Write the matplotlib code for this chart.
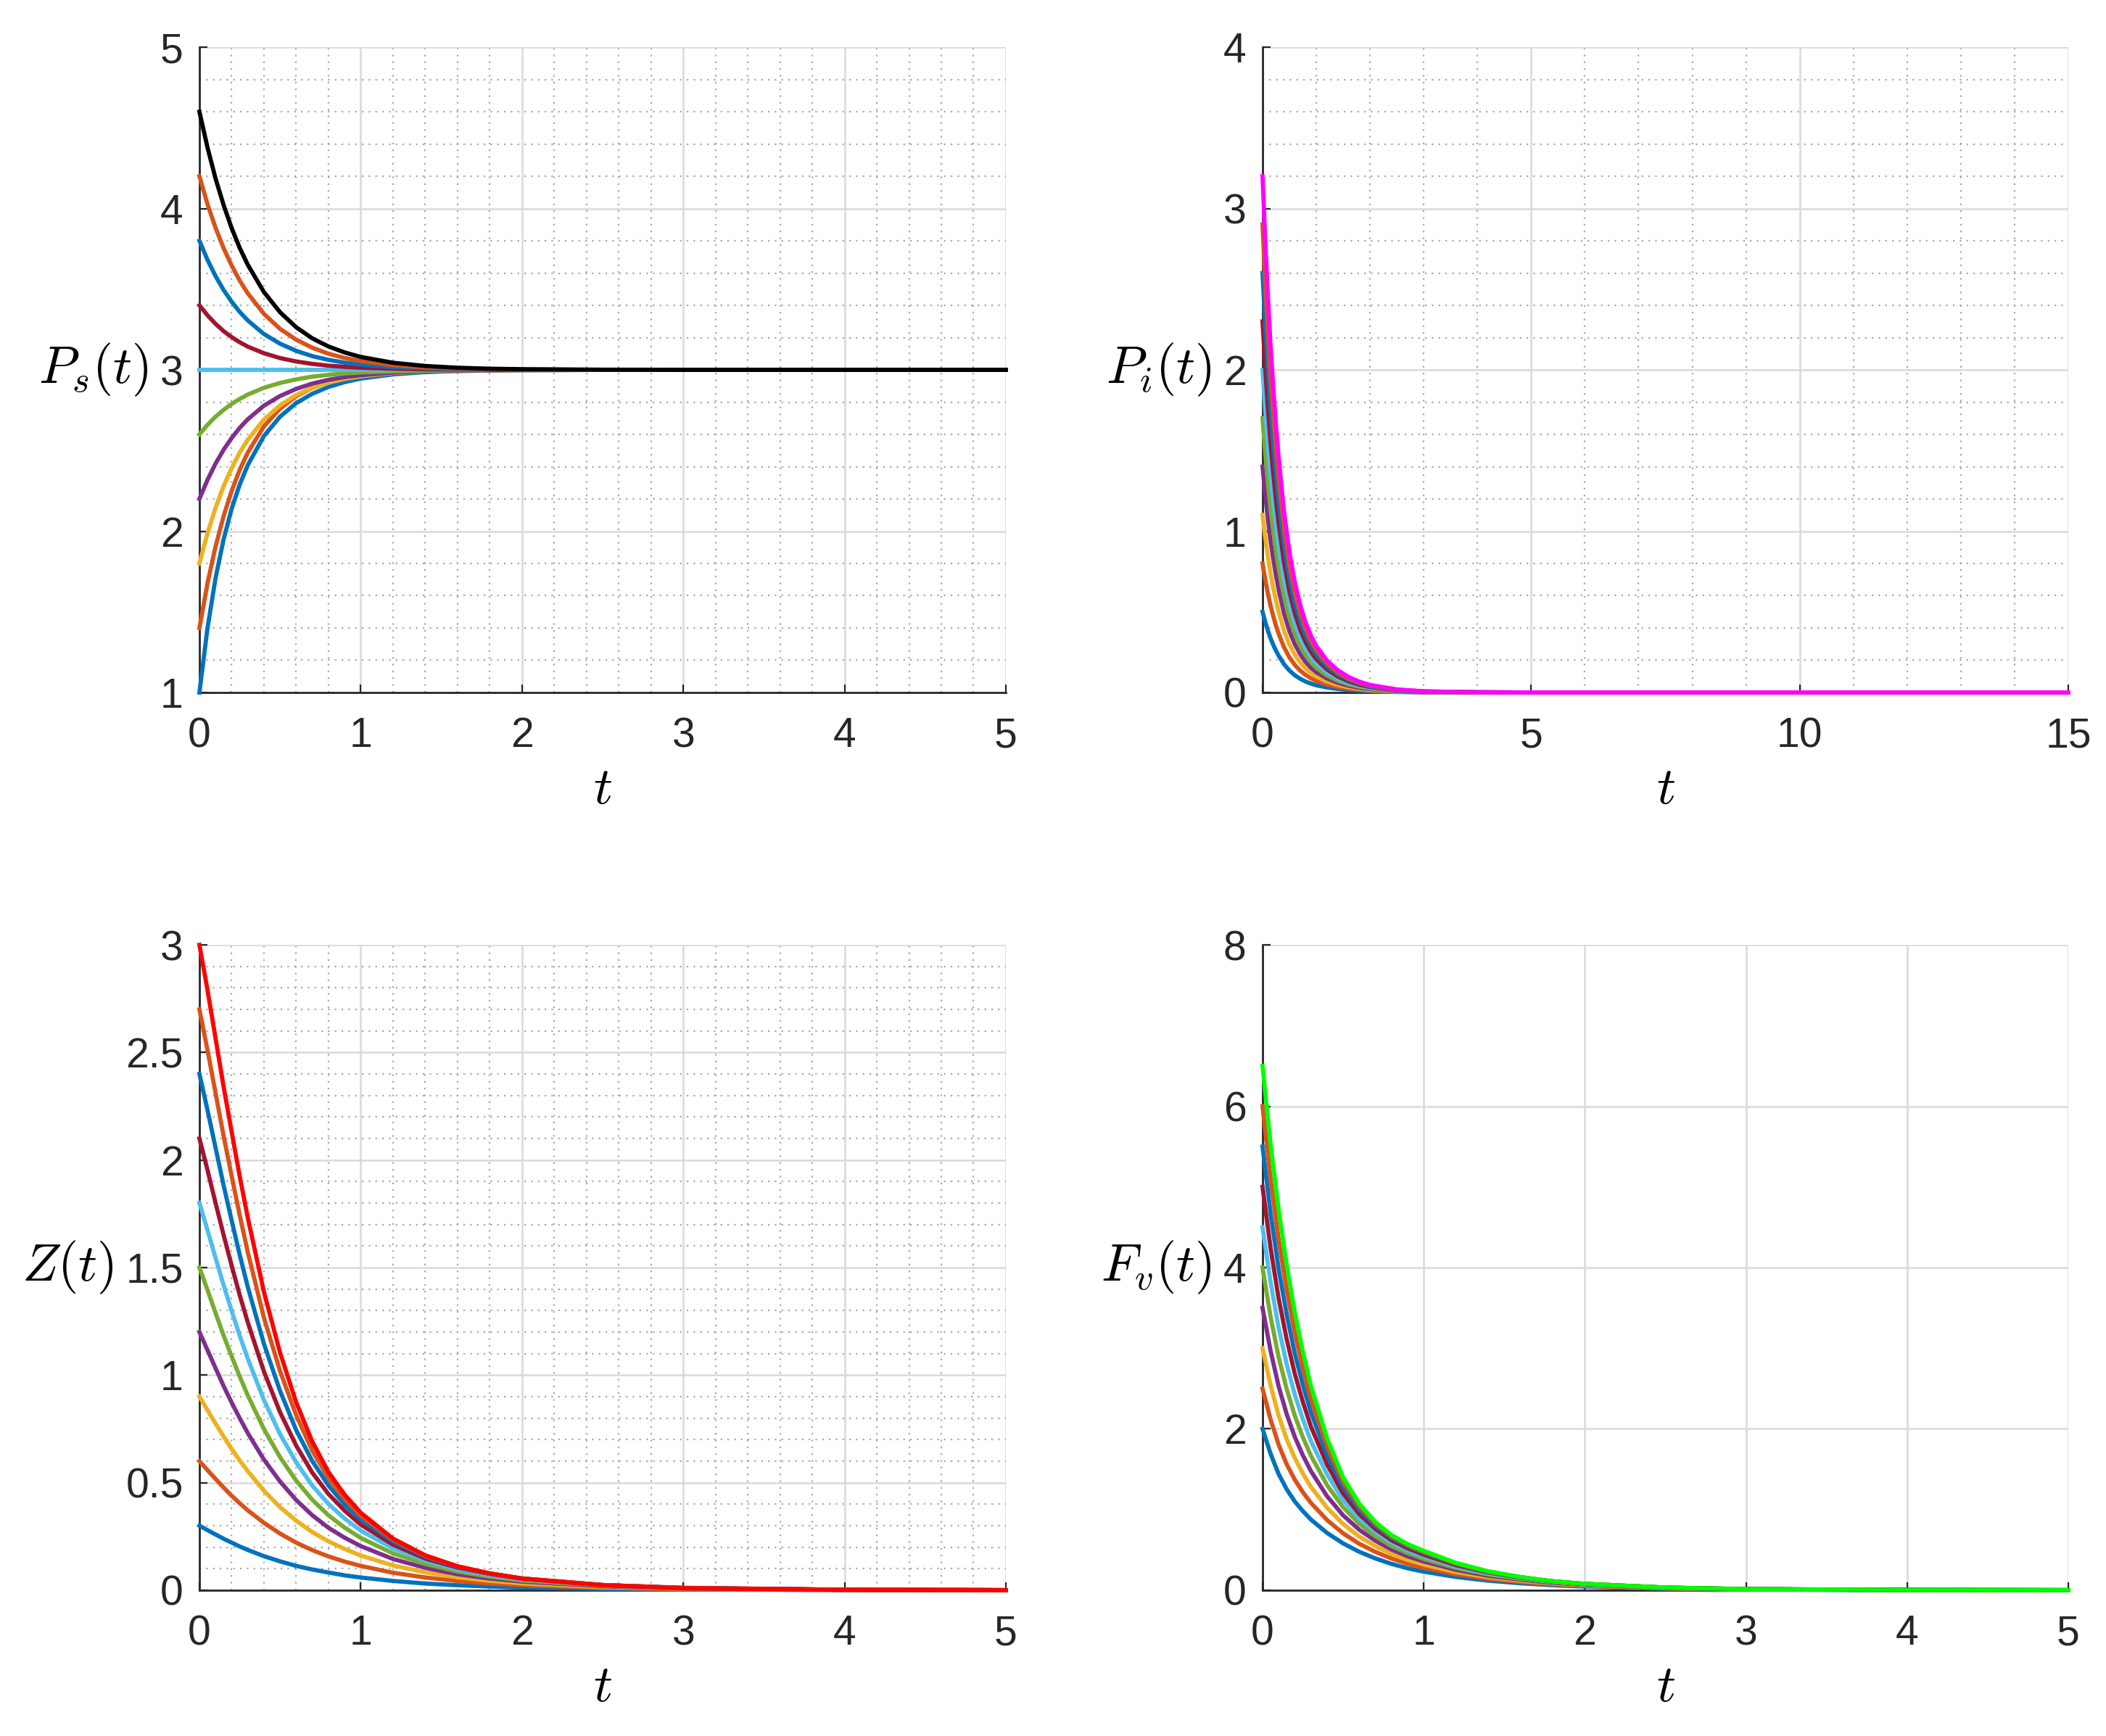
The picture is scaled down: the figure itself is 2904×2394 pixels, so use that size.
import matplotlib.pyplot as plt
from matplotlib.ticker import MultipleLocator, FormatStrFormatter

plt.rcParams['font.family'] = ['Liberation Sans', 'DejaVu Sans']
plt.rcParams['mathtext.fontset'] = 'cm'

# MATLAB default line colours
matlab = ['#0072BD', '#D95319', '#EDB120', '#7E2F8E', '#77AC30', '#4DBEEE', '#A2142F']

# time samples
t5 = [0, 0.05, 0.1, 0.15, 0.2, 0.25, 0.3, 0.4, 0.5, 0.6, 0.7, 0.8, 0.9, 1.0,
      1.2, 1.4, 1.6, 1.8, 2.0, 2.5, 3.0, 4.0, 5.0]
t15 = t5 + [15.0]

# P_s(t), initial values 1.0 ... 4.6
ps = [
    [1.0, 1.40, 1.71, 1.95, 2.14, 2.29, 2.41, 2.59, 2.71, 2.794, 2.852, 2.894, 2.924, 2.946, 2.972, 2.986, 2.993, 2.996, 2.998, 3.0, 3.0, 3.0, 3.0],
    [1.4, 1.677, 1.906, 2.094, 2.251, 2.381, 2.488, 2.650, 2.760, 2.837, 2.888, 2.924, 2.948, 2.964, 2.983, 2.992, 2.996, 2.998, 2.999, 3.0, 3.0, 3.0, 3.0],
    [1.8, 1.987, 2.146, 2.280, 2.392, 2.488, 2.567, 2.692, 2.780, 2.844, 2.889, 2.921, 2.944, 2.960, 2.980, 2.990, 2.995, 2.997, 2.999, 3.0, 3.0, 3.0, 3.0],
    [2.2, 2.318, 2.419, 2.505, 2.578, 2.641, 2.694, 2.778, 2.838, 2.882, 2.915, 2.938, 2.955, 2.967, 2.983, 2.991, 2.995, 2.997, 2.999, 3.0, 3.0, 3.0, 3.0],
    [2.6, 2.659, 2.710, 2.752, 2.789, 2.820, 2.847, 2.889, 2.919, 2.941, 2.958, 2.969, 2.978, 2.984, 2.991, 2.995, 2.998, 2.999, 2.999, 3.0, 3.0, 3.0, 3.0],
    [3.0, 3.0, 3.0, 3.0, 3.0, 3.0, 3.0, 3.0, 3.0, 3.0, 3.0, 3.0, 3.0, 3.0, 3.0, 3.0, 3.0, 3.0, 3.0, 3.0, 3.0, 3.0, 3.0],
    [3.4, 3.338, 3.285, 3.240, 3.203, 3.171, 3.144, 3.103, 3.073, 3.052, 3.037, 3.026, 3.019, 3.013, 3.007, 3.003, 3.002, 3.001, 3.0, 3.0, 3.0, 3.0, 3.0],
    [3.8, 3.682, 3.581, 3.495, 3.422, 3.359, 3.306, 3.222, 3.162, 3.118, 3.085, 3.062, 3.045, 3.033, 3.017, 3.009, 3.005, 3.003, 3.001, 3.0, 3.0, 3.0, 3.0],
    [4.2, 4.027, 3.880, 3.754, 3.646, 3.553, 3.474, 3.347, 3.254, 3.187, 3.137, 3.100, 3.074, 3.054, 3.029, 3.016, 3.008, 3.005, 3.002, 3.0, 3.0, 3.0, 3.0],
    [4.6, 4.378, 4.186, 4.021, 3.878, 3.755, 3.651, 3.482, 3.357, 3.264, 3.195, 3.145, 3.108, 3.080, 3.044, 3.024, 3.013, 3.007, 3.004, 3.001, 3.0, 3.0, 3.0],
]

# P_i(t), initial values 0.5 ... 3.2
pi = [
    [0.5, 0.438, 0.383, 0.335, 0.295, 0.259, 0.228, 0.175, 0.136, 0.107, 0.085, 0.068, 0.055, 0.045, 0.031, 0.022, 0.015, 0.011, 0.007, 0.003, 0.001, 0.0, 0.0, 0.0],
    [0.8, 0.700, 0.613, 0.536, 0.472, 0.414, 0.364, 0.280, 0.218, 0.171, 0.136, 0.109, 0.088, 0.072, 0.050, 0.034, 0.024, 0.017, 0.012, 0.005, 0.002, 0.0, 0.0, 0.0],
    [1.1, 0.963, 0.843, 0.737, 0.649, 0.570, 0.501, 0.385, 0.299, 0.235, 0.187, 0.150, 0.121, 0.099, 0.068, 0.047, 0.033, 0.023, 0.016, 0.006, 0.003, 0.0, 0.0, 0.0],
    [1.4, 1.225, 1.072, 0.938, 0.826, 0.725, 0.637, 0.490, 0.381, 0.300, 0.238, 0.190, 0.154, 0.126, 0.087, 0.060, 0.042, 0.029, 0.021, 0.008, 0.003, 0.001, 0.0, 0.0],
    [1.7, 1.488, 1.302, 1.139, 1.003, 0.881, 0.774, 0.595, 0.462, 0.364, 0.289, 0.231, 0.187, 0.153, 0.105, 0.073, 0.051, 0.036, 0.025, 0.010, 0.004, 0.001, 0.0, 0.0],
    [2.0, 1.750, 1.532, 1.340, 1.180, 1.036, 0.910, 0.700, 0.544, 0.428, 0.340, 0.272, 0.220, 0.180, 0.124, 0.086, 0.060, 0.042, 0.029, 0.012, 0.005, 0.001, 0.0, 0.0],
    [2.3, 2.013, 1.762, 1.541, 1.357, 1.191, 1.047, 0.805, 0.626, 0.492, 0.391, 0.313, 0.253, 0.207, 0.143, 0.099, 0.069, 0.048, 0.034, 0.013, 0.005, 0.001, 0.0, 0.0],
    [2.6, 2.275, 1.992, 1.742, 1.534, 1.347, 1.183, 0.910, 0.707, 0.556, 0.442, 0.354, 0.286, 0.234, 0.161, 0.112, 0.078, 0.055, 0.038, 0.015, 0.006, 0.001, 0.0, 0.0],
    [2.9, 2.538, 2.221, 1.943, 1.711, 1.502, 1.320, 1.015, 0.789, 0.621, 0.493, 0.394, 0.319, 0.261, 0.180, 0.125, 0.087, 0.061, 0.043, 0.017, 0.007, 0.001, 0.0, 0.0],
    [3.2, 2.800, 2.451, 2.144, 1.888, 1.658, 1.456, 1.120, 0.870, 0.685, 0.544, 0.435, 0.352, 0.288, 0.198, 0.138, 0.096, 0.067, 0.047, 0.019, 0.007, 0.001, 0.0, 0.0],
]

# Z(t), initial values 0.3 ... 3.0
z = [
    [0.300, 0.279, 0.259, 0.239, 0.221, 0.203, 0.187, 0.158, 0.134, 0.113, 0.096, 0.082, 0.069, 0.059, 0.043, 0.031, 0.023, 0.017, 0.012, 0.006, 0.003, 0.001, 0.0],
    [0.600, 0.558, 0.517, 0.477, 0.439, 0.404, 0.371, 0.313, 0.263, 0.221, 0.186, 0.157, 0.133, 0.113, 0.081, 0.059, 0.043, 0.031, 0.023, 0.011, 0.005, 0.001, 0.0],
    [0.900, 0.837, 0.774, 0.714, 0.656, 0.603, 0.553, 0.462, 0.386, 0.323, 0.270, 0.227, 0.192, 0.161, 0.115, 0.083, 0.060, 0.044, 0.032, 0.014, 0.007, 0.002, 0.0],
    [1.200, 1.116, 1.032, 0.949, 0.872, 0.799, 0.730, 0.607, 0.505, 0.419, 0.348, 0.290, 0.244, 0.205, 0.145, 0.104, 0.074, 0.054, 0.040, 0.018, 0.008, 0.002, 0.0],
    [1.500, 1.395, 1.289, 1.184, 1.086, 0.993, 0.905, 0.749, 0.618, 0.509, 0.420, 0.348, 0.291, 0.243, 0.171, 0.122, 0.087, 0.063, 0.045, 0.021, 0.009, 0.002, 0.0],
    [1.800, 1.674, 1.544, 1.418, 1.298, 1.183, 1.076, 0.884, 0.725, 0.594, 0.486, 0.401, 0.333, 0.277, 0.194, 0.137, 0.097, 0.070, 0.050, 0.023, 0.010, 0.002, 0.001],
    [2.100, 1.953, 1.800, 1.651, 1.508, 1.371, 1.245, 1.016, 0.827, 0.672, 0.546, 0.447, 0.370, 0.305, 0.212, 0.147, 0.105, 0.076, 0.053, 0.024, 0.011, 0.002, 0.0],
    [2.400, 2.232, 2.057, 1.882, 1.718, 1.558, 1.409, 1.145, 0.926, 0.744, 0.600, 0.487, 0.398, 0.329, 0.226, 0.156, 0.108, 0.077, 0.055, 0.024, 0.010, 0.002, 0.0],
    [2.700, 2.511, 2.311, 2.111, 1.925, 1.742, 1.571, 1.266, 1.018, 0.813, 0.648, 0.521, 0.424, 0.346, 0.235, 0.159, 0.111, 0.078, 0.054, 0.024, 0.010, 0.002, 0.0],
    [3.000, 2.790, 2.565, 2.340, 2.130, 1.923, 1.731, 1.386, 1.104, 0.873, 0.690, 0.549, 0.444, 0.360, 0.240, 0.162, 0.111, 0.078, 0.054, 0.023, 0.009, 0.002, 0.0],
]

# F_v(t), initial values 2.0 ... 6.5
fv = [
    [2.000, 1.690, 1.440, 1.250, 1.100, 0.980, 0.876, 0.710, 0.580, 0.476, 0.394, 0.326, 0.272, 0.230, 0.164, 0.118, 0.086, 0.062, 0.044, 0.018, 0.008, 0.002, 0.0],
    [2.500, 2.115, 1.803, 1.560, 1.370, 1.215, 1.083, 0.870, 0.705, 0.575, 0.475, 0.393, 0.328, 0.278, 0.198, 0.140, 0.103, 0.073, 0.053, 0.022, 0.010, 0.002, 0.0],
    [3.000, 2.538, 2.163, 1.872, 1.638, 1.446, 1.281, 1.023, 0.819, 0.666, 0.546, 0.450, 0.375, 0.318, 0.225, 0.162, 0.117, 0.084, 0.060, 0.024, 0.011, 0.002, 0.0],
    [3.500, 2.965, 2.527, 2.181, 1.901, 1.673, 1.477, 1.166, 0.928, 0.749, 0.613, 0.504, 0.420, 0.357, 0.252, 0.179, 0.130, 0.091, 0.067, 0.027, 0.012, 0.002, 0.0],
    [4.000, 3.388, 2.888, 2.492, 2.164, 1.896, 1.668, 1.304, 1.028, 0.824, 0.668, 0.548, 0.460, 0.388, 0.276, 0.196, 0.140, 0.100, 0.072, 0.029, 0.012, 0.002, 0.0],
    [4.500, 3.816, 3.254, 2.799, 2.426, 2.120, 1.850, 1.436, 1.116, 0.887, 0.720, 0.590, 0.491, 0.419, 0.293, 0.207, 0.149, 0.104, 0.072, 0.031, 0.013, 0.002, 0.0],
    [5.000, 4.240, 3.615, 3.110, 2.685, 2.335, 2.030, 1.560, 1.200, 0.945, 0.760, 0.620, 0.520, 0.440, 0.310, 0.220, 0.155, 0.110, 0.075, 0.032, 0.014, 0.003, 0.001],
    [5.500, 4.670, 3.982, 3.416, 2.937, 2.547, 2.206, 1.672, 1.276, 0.996, 0.798, 0.649, 0.545, 0.462, 0.325, 0.226, 0.160, 0.110, 0.078, 0.032, 0.013, 0.002, 0.001],
    [6.000, 5.094, 4.344, 3.726, 3.192, 2.754, 2.370, 1.782, 1.338, 1.038, 0.824, 0.666, 0.558, 0.474, 0.330, 0.228, 0.162, 0.108, 0.079, 0.032, 0.013, 0.002, 0.0],
    [6.500, 5.525, 4.713, 4.030, 3.445, 2.958, 2.535, 1.885, 1.398, 1.073, 0.845, 0.683, 0.572, 0.488, 0.338, 0.234, 0.163, 0.111, 0.078, 0.033, 0.013, 0.002, 0.0],
]

fig = plt.figure(figsize=(14.52, 11.97), dpi=200)
boxes = [[0.0947, 0.6011, 0.3829, 0.3717], [0.5995, 0.6011, 0.3826, 0.3717],
         [0.0947, 0.0840, 0.3829, 0.3717], [0.5995, 0.0840, 0.3826, 0.3717]]

panels = [
    (t5, ps, 'k', r'$P_s(t)$', (0, 5), (1, 5), 1, 1, 0.2, 0.2),
    (t15, pi, '#FF00FF', r'$P_i(t)$', (0, 15), (0, 4), 5, 1, 1, 0.2),
    (t5, z, '#FF0000', r'$Z(t)$', (0, 5), (0, 3), 1, 0.5, 0.2, 0.1),
    (t5, fv, '#00FF00', r'$F_v(t)$', (0, 5), (0, 8), 1, 2, None, None),
]

for box, (t, data, last, lab, xl, yl, xmaj, ymaj, xmin, ymin) in zip(boxes, panels):
    ax = fig.add_axes(box)
    cols = [matlab[k % 7] for k in range(len(data) - 1)] + [last]
    for y, c in zip(data, cols):
        ax.plot(t, y, color=c, lw=2.1, zorder=3, clip_on=False,
                solid_joinstyle='round')

    ax.set_xlim(xl)
    ax.set_ylim(yl)
    ax.xaxis.set_major_locator(MultipleLocator(xmaj))
    ax.yaxis.set_major_locator(MultipleLocator(ymaj))
    ax.yaxis.set_major_formatter(FormatStrFormatter('%g'))
    ax.xaxis.set_major_formatter(FormatStrFormatter('%g'))
    ax.grid(True, which='major', color='#d9d9d9', lw=0.9, zorder=0)
    if xmin is not None:
        ax.xaxis.set_minor_locator(MultipleLocator(xmin))
        ax.yaxis.set_minor_locator(MultipleLocator(ymin))
        ax.grid(True, which='minor', color='#a8a8a8', lw=0.8, ls=(0, (1, 3.2)), zorder=0)
    ax.set_axisbelow(True)

    for s in ['top', 'right']:
        ax.spines[s].set_visible(False)
    for s in ['left', 'bottom']:
        ax.spines[s].set_color('#262626')
        ax.spines[s].set_linewidth(1.0)

    ax.tick_params(which='major', direction='in', length=4, width=0.8, colors='#262626',
                   labelsize=20.5)
    ax.tick_params(axis='x', which='major', pad=12)
    ax.tick_params(axis='y', which='major', pad=8)
    ax.tick_params(which='minor', length=0)

    ax.set_xlabel(r'$t$', fontsize=26, labelpad=5)
    ax.set_ylabel(lab, fontsize=26, rotation=0, ha='right', va='center', labelpad=6)

plt.savefig('out.png', dpi=200)
